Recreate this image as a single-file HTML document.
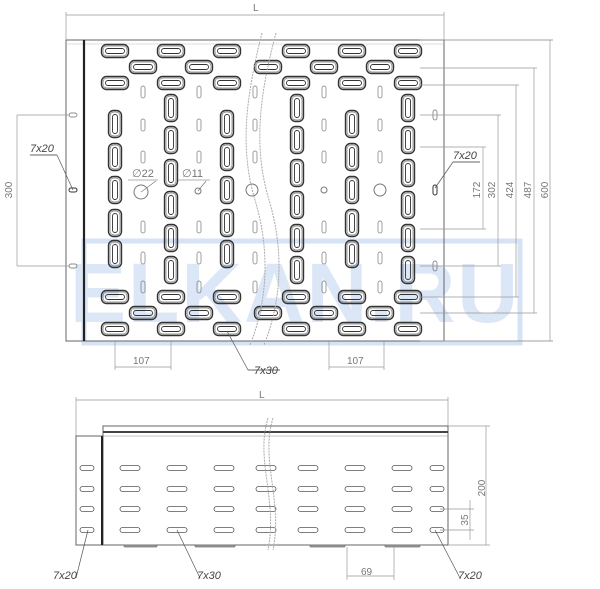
<!DOCTYPE html>
<html><head><meta charset="utf-8"><style>
html,body{margin:0;padding:0;background:#fff;}
svg{display:block;font-family:"Liberation Sans",sans-serif;}
</style></head><body>
<svg id="s" width="600" height="589" viewBox="0 0 600 589" xmlns="http://www.w3.org/2000/svg">
<rect x="84" y="241" width="436" height="102" fill="none" stroke="#d6e3f5" stroke-width="5"/>
<text x="295" y="322" text-anchor="middle" font-size="84" font-weight="bold" fill="#dbe6f6" letter-spacing="2">ELKAN.RU</text>
<g id="g" fill="none" stroke="#555" stroke-width="1"></g>
<g fill="#444" font-size="10" font-style="italic">
<text x="30" y="152" font-size="11">7x20</text>
<text x="453" y="159" font-size="11">7x20</text>
<text x="254" y="374" font-size="11">7x30</text>
<text x="53" y="579" font-size="11">7x20</text>
<text x="197" y="579" font-size="11">7x30</text>
<text x="458" y="579" font-size="11">7x20</text>
</g>
<g fill="#777" font-size="10">
<text x="253" y="11">L</text>
<text x="259" y="398">L</text>
<text x="133" y="364">107</text>
<text x="347" y="364">107</text>
<text x="361" y="575">69</text>
<text x="132" y="177" font-size="11">∅22</text>
<text x="182" y="177" font-size="11">∅11</text>
<text transform="translate(12,190) rotate(-90)" text-anchor="middle">300</text>
<text transform="translate(480,190) rotate(-90)" text-anchor="middle">172</text>
<text transform="translate(495,190) rotate(-90)" text-anchor="middle">302</text>
<text transform="translate(513,190) rotate(-90)" text-anchor="middle">424</text>
<text transform="translate(531,190) rotate(-90)" text-anchor="middle">487</text>
<text transform="translate(548,190) rotate(-90)" text-anchor="middle">600</text>
<text transform="translate(485,488) rotate(-90)" text-anchor="middle">200</text>
<text transform="translate(468,520) rotate(-90)" text-anchor="middle">35</text>
</g>
</svg>
<script>
const g=document.getElementById('g');let h='';
const L=(x1,y1,x2,y2,c='#999',w=0.7)=>h+=`<line x1="${x1}" y1="${y1}" x2="${x2}" y2="${y2}" stroke="${c}" stroke-width="${w}"/>`;
const R=(x,y,w,hh,rx,c='#555',sw=1,f='none')=>h+=`<rect x="${x}" y="${y}" width="${w}" height="${hh}" rx="${rx}" stroke="${c}" stroke-width="${sw}" fill="${f}"/>`;
function HS(cx,cy){R(cx-13.5,cy-6.5,27,13,5,'#333',1.4);R(cx-12,cy-5,24,10,4,'#777',0.7);R(cx-9.5,cy-2.5,19,5,2.5,'#333',0.9);}
function VS(cx,cy){R(cx-6.5,cy-13.5,13,27,5,'#333',1.4);R(cx-5,cy-12,10,24,4,'#777',0.7);R(cx-2.5,cy-9.5,5,19,2.5,'#333',0.9);}
R(66,40,378,301,0,'#666',1);L(66,44,444,44,'#bbb',0.6);
L(84,40,84,341,'#222',2.2);
const c1=[115,171,227,296,352,408],c2=[143,199,268,324,380];
[51,83,297,329].forEach(y=>c1.forEach(x=>HS(x,y)));
[67,313].forEach(y=>c2.forEach(x=>HS(x,y)));
const pA=[124,157,190,223,254],pB=[108,140,173,205,238,270];
[[115,pA],[171,pB],[227,pA],[297,pB],[352,pA],[408,pB]].forEach(([x,ys])=>ys.forEach(y=>VS(x,y)));
[143,199,255,324,380].forEach(x=>[92,125,157,227,258,287].forEach(y=>R(x-2,y-6,4,12,2,'#777',0.7)));
h+=`<circle cx="141" cy="192" r="7" stroke="#777" fill="none"/><circle cx="198" cy="191" r="3" stroke="#777" fill="none"/><circle cx="252" cy="190" r="6" stroke="#777" fill="none"/><circle cx="324" cy="190" r="3" stroke="#777" fill="none"/><circle cx="380" cy="190" r="6" stroke="#777" fill="none"/>`;
L(141,192,156,181,'#777');L(198,191,206,181,'#777');L(128,180,158,180);L(178,180,210,180);
h+=`<path d="M262 33 C245 100,240 150,255 200 S268 300,250 345" stroke="#aaa" stroke-dasharray="2 1" fill="none"/><path d="M276 33 C258 100,254 150,269 200 S282 300,264 345" stroke="#aaa" stroke-dasharray="2 1" fill="none"/>`;
[115,266].forEach(y=>R(69,y-2,8,4,2,'#666',0.7));R(69,188,8,4,2,'#333',1);
[115,266].forEach(y=>R(433,y-5,4,10,2,'#666',0.7));R(433,185,4,10,2,'#333',1);
L(66,15,444,15);L(66,12,66,40);L(444,12,444,40);
L(17,115,70,115);L(17,266,70,266);L(17,115,17,266);
L(30,155,57,155,'#333');L(57,155,73,190,'#555');
L(453,162,480,162,'#333');L(453,162,435,188,'#555');
const dm=[[483,147,229],[498,115,266],[516,85,297],[534,68,313],[550,40,341]];
dm.forEach(([x,a,b])=>{L(x,a,x,b);L(420,a,x+3,a);L(420,b,x+3,b);});
L(444,40,553,40);L(444,341,553,341);
L(115,341,115,370);L(171,341,171,370);L(115,367,171,367);
L(329,341,329,370);L(384,341,384,370);L(329,367,384,367);
L(227,331,248,370,'#555');L(248,370,280,370,'#333');
L(76,400,448,400);L(76,397,76,436);L(448,397,448,426);
R(103,426,345,119,0,'#666',1);L(103,432,448,432,'#444',2);L(103,436,448,436,'#888',0.6);
R(76,436,26,109,0,'#666',1);L(102,436,102,545,'#222',2);
[468,489,509,530].forEach(y=>{[130,177,224,266,308,355,402].forEach(x=>R(x-10,y-2.5,20,5,2.5,'#555',0.8));R(80,y-2.5,14,5,2.5,'#555',0.8);R(430,y-2.5,14,5,2.5,'#555',0.8);});
[[124,157],[195,235],[310,345],[385,420]].forEach(([a,b])=>R(a,545,b-a,2,1,'#777',0.8,'#999'));
h+=`<path d="M268 418 C255 460,278 500,268 550" stroke="#aaa" stroke-dasharray="2 1" fill="none"/><path d="M273 418 C260 460,283 500,273 550" stroke="#aaa" stroke-dasharray="2 1" fill="none"/>`;
L(448,426,490,426);L(448,545,490,545);L(486,426,486,545);
L(440,509,474,509);L(440,530,474,530);L(470,500,470,540);
L(347,547,347,580);L(394,547,394,580);L(347,576,394,576);
L(88,530,76,578,'#555');L(177,530,200,578,'#555');L(435,530,460,578,'#555');
g.innerHTML=h;
</script>
</body></html>
